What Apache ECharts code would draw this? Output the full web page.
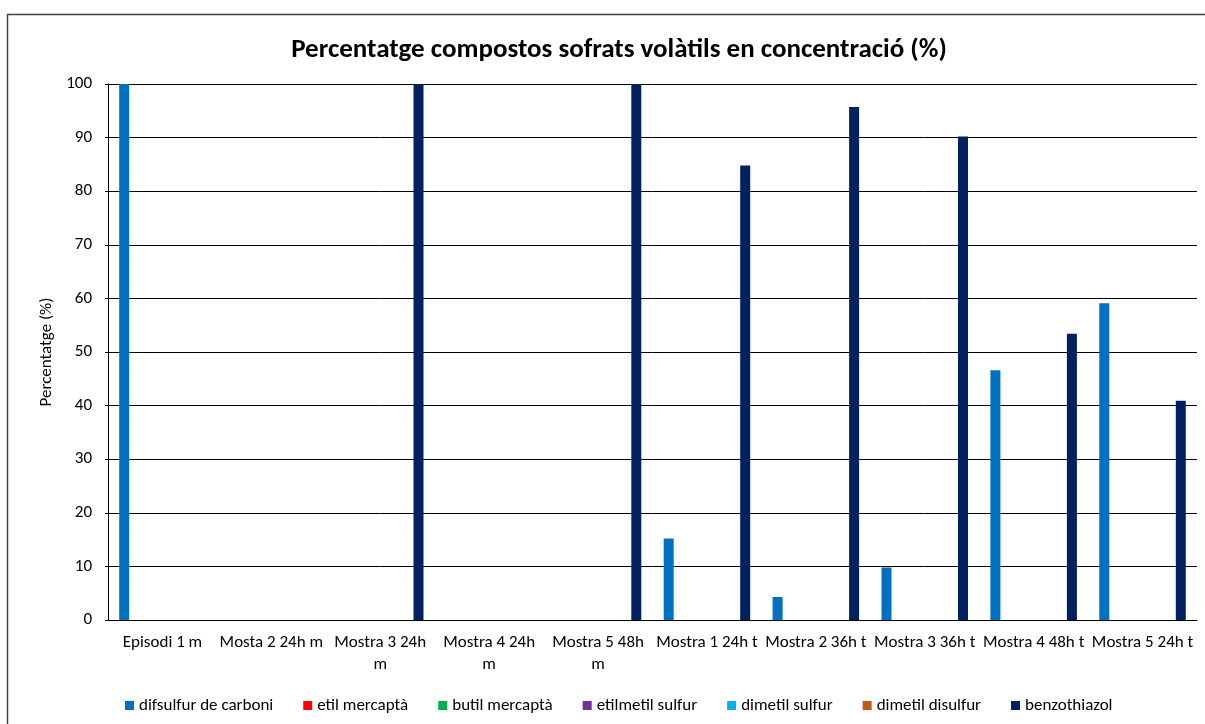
<!DOCTYPE html>
<html>
<head>
<meta charset="utf-8">
<script src="https://cdn.jsdelivr.net/npm/echarts@6/dist/echarts.min.js"></script>
<style>
html,body{margin:0;padding:0;background:#fff;}
#chart{width:1205px;height:724px;}
</style>
</head>
<body>
<div id="chart"></div>
<script>
const categories = ['Episodi 1 m','Mosta 2 24h m','Mostra 3 24h m','Mostra 4 24h m','Mostra 5 48h m','Mostra 1 24h t','Mostra 2 36h t','Mostra 3 36h t','Mostra 4 48h t','Mostra 5 24h t'];
const difsulfurDeCarboni = [100, 0, 0, 0, 0, 15.2, 4.3, 9.8, 46.6, 59.1];
const etilMercapta = [0, 0, 0, 0, 0, 0, 0, 0, 0, 0];
const butilMercapta = [0, 0, 0, 0, 0, 0, 0, 0, 0, 0];
const etilmetilSulfur = [0, 0, 0, 0, 0, 0, 0, 0, 0, 0];
const dimetilSulfur = [0, 0, 0, 0, 0, 0, 0, 0, 0, 0];
const dimetilDisulfur = [0, 0, 0, 0, 0, 0, 0, 0, 0, 0];
const benzothiazol = [0, 0, 100, 0, 100, 84.8, 95.7, 90.2, 53.4, 40.9];
const yTicks = [0, 10, 20, 30, 40, 50, 60, 70, 80, 90, 100];

const seriesNames = ['difsulfur de carboni','etil mercaptà','butil mercaptà','etilmetil sulfur','dimetil sulfur','dimetil disulfur','benzothiazol'];
const seriesData = [difsulfurDeCarboni, etilMercapta, butilMercapta, etilmetilSulfur, dimetilSulfur, dimetilDisulfur, benzothiazol];
const colors = ['#0070C0','#FF0000','#00B050','#7030A0','#00B0F0','#C55A11','#002060'];

const FONT = "Carlito, 'Open Sans', sans-serif";
const chart = echarts.init(document.getElementById('chart'), null, {renderer:'canvas'});
chart.setOption({
  animation: false,
  backgroundColor: '#fff',
  color: colors,
  graphic: [{
    type: 'rect', left: 5, top: 12, silent: true,
    shape: {width: 1260, height: 760},
    style: {fill: 'none', stroke: '#404040', lineWidth: 1.5}
  }],
  title: {
    text: 'Percentatge compostos sofrats volàtils en concentració (%)',
    left: 614, top: 45, textAlign: 'center', textVerticalAlign: 'middle',
    textStyle: {fontFamily: FONT, fontWeight: 'bold', fontSize: 27, color: '#000'}
  },
  legend: {
    left: 120, top: 692,
    icon: 'rect', itemWidth: 9, itemHeight: 9, itemGap: 30,
    textStyle: {fontFamily: FONT, fontSize: 17, color: '#000', padding: [0,0,0,0]},
    data: seriesNames
  },
  grid: {left: 108, right: 8, top: 84, bottom: 104, containLabel: false},
  xAxis: {
    type: 'category', data: categories,
    axisLine: {show: true, lineStyle: {color: '#000', width: 1}},
    axisTick: {show: false},
    axisLabel: {
      interval: 0, margin: 12, fontFamily: FONT, fontSize: 17, color: '#000', lineHeight: 22,
      formatter: v => (v.startsWith('Mostra') && / m$/.test(v)) ? v.replace(/ m$/, '\nm') : v
    },
    splitLine: {show: false}
  },
  yAxis: {
    type: 'value', min: 0, max: 100, interval: 10,
    name: 'Percentatge (%)', nameLocation: 'middle', nameGap: 50, nameRotate: 90,
    nameTextStyle: {fontFamily: FONT, fontSize: 17, color: '#000'},
    axisLine: {show: true, lineStyle: {color: '#000', width: 1}},
    axisTick: {show: true, length: 3, lineStyle: {color: '#000'}},
    axisLabel: {margin: 16, fontFamily: FONT, fontSize: 17, color: '#000',
      formatter: v => yTicks.includes(v) ? String(v) : ''},
    splitLine: {show: true, lineStyle: {color: '#000', width: 1}}
  },
  series: seriesNames.map((n, i) => ({
    name: n, type: 'bar', data: seriesData[i],
    barWidth: 10, barGap: '27.5%',
    itemStyle: {color: colors[i]}
  }))
});
</script>
</body>
</html>
